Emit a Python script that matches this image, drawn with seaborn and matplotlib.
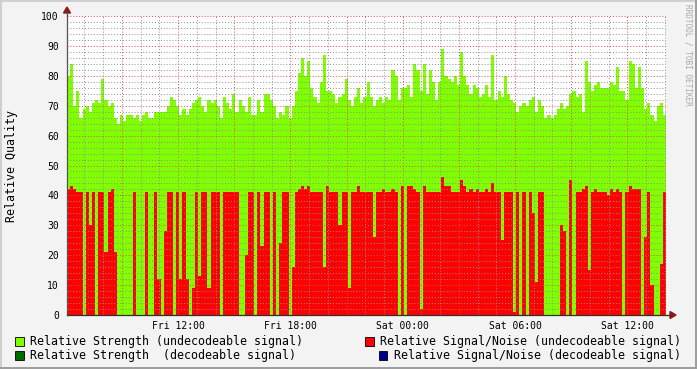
import numpy as np
import pandas as pd
import matplotlib
matplotlib.use("Agg")
import matplotlib.pyplot as plt
import seaborn as sns
from matplotlib.patches import Rectangle, Polygon
from matplotlib.lines import Line2D
from matplotlib.ticker import FixedLocator, FuncFormatter, MultipleLocator

# ---------------- data ----------------
start_hour = 6 + 4 / 60          # Fri 06:04 (hours since Fri 00:00)
step_hours = 10 / 60             # 10-minute samples

strength = [80, 84, 70, 75, 66, 69, 70, 68, 71, 72, 71, 79, 72, 70, 71, 66,
            64, 67, 65, 67, 67, 66, 67, 65, 67, 68, 66, 66, 68, 68, 68, 68,
            70, 73, 72, 70, 67, 69, 67, 69, 71, 72, 73, 70, 68, 72, 71, 72,
            70, 66, 73, 71, 69, 74, 68, 72, 70, 68, 73, 67, 67, 72, 68, 74,
            74, 72, 70, 66, 68, 67, 70, 66, 70, 75, 81, 86, 80, 85, 76, 73,
            71, 78, 87, 75, 75, 74, 71, 73, 74, 79, 72, 70, 73, 76, 71, 73,
            78, 73, 70, 72, 73, 71, 73, 72, 82, 80, 72, 76, 76, 77, 73, 84,
            82, 75, 84, 74, 82, 78, 72, 78, 89, 80, 79, 78, 80, 77, 88, 80,
            77, 74, 77, 76, 73, 74, 77, 73, 87, 72, 75, 73, 80, 74, 72, 71,
            68, 70, 71, 70, 72, 73, 68, 72, 70, 66, 67, 66, 67, 69, 71, 69,
            70, 74, 75, 73, 74, 68, 85, 78, 75, 77, 78, 76, 76, 76, 78, 77,
            83, 75, 75, 72, 85, 84, 76, 83, 76, 69, 71, 67, 65, 70, 71, 67]

snr = [42, 43, 42, 41, 41, 0, 41, 30, 41, 0, 41, 41, 21, 41, 42, 21,
       0, 0, 0, 0, 0, 41, 0, 0, 0, 41, 0, 0, 41, 12, 0, 28,
       41, 41, 0, 41, 12, 41, 12, 0, 9, 41, 13, 41, 41, 9, 41, 41,
       41, 0, 41, 41, 41, 41, 41, 0, 0, 20, 41, 41, 0, 41, 23, 41,
       41, 0, 41, 0, 24, 41, 41, 0, 16, 41, 42, 43, 42, 43, 41, 41,
       41, 41, 16, 43, 41, 41, 41, 30, 41, 41, 9, 41, 41, 43, 41, 41,
       41, 41, 26, 41, 41, 42, 41, 41, 42, 41, 0, 43, 0, 43, 43, 42,
       41, 2, 43, 41, 41, 41, 41, 41, 46, 43, 43, 41, 41, 41, 45, 43,
       41, 42, 41, 42, 41, 41, 42, 41, 44, 41, 41, 25, 41, 41, 41, 1,
       41, 0, 41, 0, 41, 34, 11, 41, 41, 0, 0, 0, 0, 0, 30, 28,
       0, 45, 0, 41, 41, 42, 43, 15, 41, 42, 41, 41, 41, 40, 42, 41,
       42, 41, 0, 41, 43, 42, 42, 42, 0, 26, 41, 10, 0, 0, 17, 41]

tick_hours = [12, 18, 24, 30, 36]
tick_labels = ["Fri 12:00", "Fri 18:00", "Sat 00:00", "Sat 06:00", "Sat 12:00"]
y_ticks = list(range(0, 101, 10))

legend_labels = ["Relative Strength (undecodeable signal)",
                 "Relative Signal/Noise (undecodeable signal)",
                 "Relative Strength  (decodeable signal)",
                 "Relative Signal/Noise (decodeable signal)"]
legend_colors = ["#80FF00", "#FF0000", "#006A00", "#00008C"]

# ---------------- style ----------------
W, H = 697, 369
sns.set_theme(style="white")
plt.rcParams["font.family"] = ["DejaVu Sans Mono", "DejaVu Sans"]
plt.rcParams["axes.facecolor"] = "white"

fig = plt.figure(figsize=(W / 100, H / 100), dpi=100, facecolor="#F3F3F3")


def fx(x):
    return x / W


def fy(y):
    return 1 - y / H


ax = fig.add_axes([fx(67), fy(315), (666 - 67) / W, (315 - 16) / H])

n = len(strength)
t0, t1 = start_hour, start_hour + n * step_hours
df = pd.DataFrame({
    "time": start_hour + step_hours * (np.arange(n) + 0.5),
    "strength": strength,
    "snr": snr,
})

sns.histplot(data=df, x="time", weights="strength", bins=n, binrange=(t0, t1),
             element="step", fill=True, color=legend_colors[0], alpha=1,
             linewidth=0, ax=ax)
sns.histplot(data=df, x="time", weights="snr", bins=n, binrange=(t0, t1),
             element="step", fill=True, color=legend_colors[1], alpha=1,
             linewidth=0, ax=ax)

ax.set_xlim(t0, t1)
ax.set_ylim(0, 100)
ax.set_xlabel("")
ax.set_ylabel("")

# ticks & grid
label_map = dict(zip(tick_hours, tick_labels))
ax.xaxis.set_major_locator(MultipleLocator(3))
ax.xaxis.set_minor_locator(MultipleLocator(1))
ax.xaxis.set_major_formatter(FuncFormatter(lambda v, p: label_map.get(int(round(v)), "")))
ax.yaxis.set_major_locator(FixedLocator(y_ticks))
ax.yaxis.set_minor_locator(MultipleLocator(2))

ax.set_axisbelow(False)
ax.grid(which="minor", color=(0.56, 0.56, 0.56, 0.45), linestyle=(0, (1, 2)), linewidth=0.7)
ax.grid(which="major", color=(0.87, 0.31, 0.31, 0.55), linestyle=(0, (1, 2)), linewidth=0.7)

ax.tick_params(axis="both", which="both", direction="out", length=1.5, width=0.7,
               colors="#909090", labelcolor="black", labelsize=7)
ax.tick_params(axis="x", which="major", color="#D05050", pad=2.5)
ax.tick_params(axis="y", which="major", color="#D05050", pad=4.3)

for s in ["top", "right"]:
    ax.spines[s].set_visible(False)
ax.spines["left"].set_color("#505050")
ax.spines["bottom"].set_color("#303030")
ax.spines["left"].set_linewidth(0.9)
ax.spines["bottom"].set_linewidth(0.9)

# axis extensions with arrows
arrow_c = "#8B1A1A"
fig.add_artist(Line2D([fx(67), fx(67)], [fy(16), fy(12)], color="#505050", lw=0.9))
fig.add_artist(Polygon([[fx(63.5), fy(13)], [fx(70.5), fy(13)], [fx(67), fy(7)]],
                       closed=True, color=arrow_c, transform=fig.transFigure))
fig.add_artist(Line2D([fx(666), fx(671)], [fy(315), fy(315)], color="#303030", lw=0.9))
fig.add_artist(Polygon([[fx(670), fy(311.5)], [fx(670), fy(318.5)], [fx(676), fy(315)]],
                       closed=True, color=arrow_c, transform=fig.transFigure))

# y label
fig.text(fx(12), fy(165.5), "Relative Quality", rotation=90, ha="center", va="center",
         fontsize=8.4, color="black")

# watermark
fig.text(fx(688), fy(4), "RRDTOOL / TOBI OETIKER", rotation=270, ha="center", va="top",
         fontsize=5.6, color="#A8A8A8")

# legend
legend_pos = [(15, 341, 30), (365, 341, 380), (15, 355, 30), (379, 355, 394)]
for (mx, my, tx), lab, col in zip(legend_pos, legend_labels, legend_colors):
    fig.add_artist(Rectangle((fx(mx), fy(my + 4.5)), 8.5 / W, 8.5 / H, facecolor=col,
                             edgecolor="black", linewidth=0.6, transform=fig.transFigure))
    fig.text(fx(tx), fy(my), lab, ha="left", va="center", fontsize=8.4, color="black")

# 3D-ish border
fig.add_artist(Rectangle((0, fy(2)), 1, 2 / H, facecolor="#CFCFCF", edgecolor="none",
                         transform=fig.transFigure))
fig.add_artist(Rectangle((0, 0), 2 / W, 1, facecolor="#CFCFCF", edgecolor="none",
                         transform=fig.transFigure))
fig.add_artist(Rectangle((0, 0), 1, 2 / H, facecolor="#9E9E9E", edgecolor="none",
                         transform=fig.transFigure))
fig.add_artist(Rectangle((fx(695), 0), 2 / W, 1, facecolor="#9E9E9E", edgecolor="none",
                         transform=fig.transFigure))

fig.savefig("out.png", dpi=100, facecolor=fig.get_facecolor())
